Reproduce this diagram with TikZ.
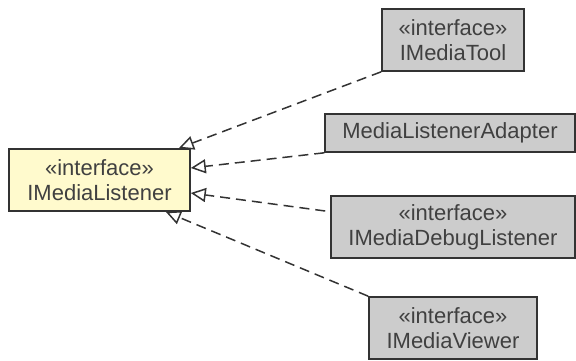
\documentclass[tikz,border=0pt]{standalone}
\usepackage{fontspec}
\setmainfont{Liberation Sans}
\usetikzlibrary{arrows.meta}
\definecolor{ifill}{RGB}{255,250,205}
\definecolor{gfill}{RGB}{204,204,204}
\definecolor{bordc}{RGB}{51,51,51}
\definecolor{txtc}{RGB}{64,64,64}
\tikzset{
  uml/.style={draw=bordc, line width=1.6pt, text=txtc, inner sep=0pt, align=center,
    font=\fontsize{22}{25}\selectfont},
  ybox/.style={uml, fill=ifill},
  gbox/.style={uml, fill=gfill},
  realize/.style={draw=bordc, line width=1.5pt, dash pattern=on 10pt off 6pt,
    -{Triangle[open, length=15pt, width=14pt, fill=white]}},
}
\begin{document}
\begin{tikzpicture}[x=1pt, y=-1pt]
\useasboundingbox (0,0) rectangle (576,360);
\node[ybox, minimum width=181pt, minimum height=62pt] (lis) at (99.5,180) {«interface»\\IMediaListener};
\node[gbox, minimum width=142pt, minimum height=62pt] (tool) at (453,40) {«interface»\\IMediaTool};
\node[gbox, minimum width=250pt, minimum height=38pt] (adp) at (450,133) {MediaListenerAdapter};
\node[gbox, minimum width=244pt, minimum height=62pt] (dbg) at (453,227) {«interface»\\IMediaDebugListener};
\node[gbox, minimum width=168pt, minimum height=62pt] (vw) at (453,328) {«interface»\\IMediaViewer};
\draw[realize] (tool.south west) -- ([xshift=-12pt]lis.north east);
\draw[realize] (adp.south west) -- ([yshift=12pt]lis.east);
\draw[realize] ([yshift=16pt, xshift=-5pt]dbg.west) -- ([yshift=-13pt]lis.east);
\draw[realize] (vw.north west) -- ([xshift=-25pt]lis.south east);
\end{tikzpicture}
\end{document}
